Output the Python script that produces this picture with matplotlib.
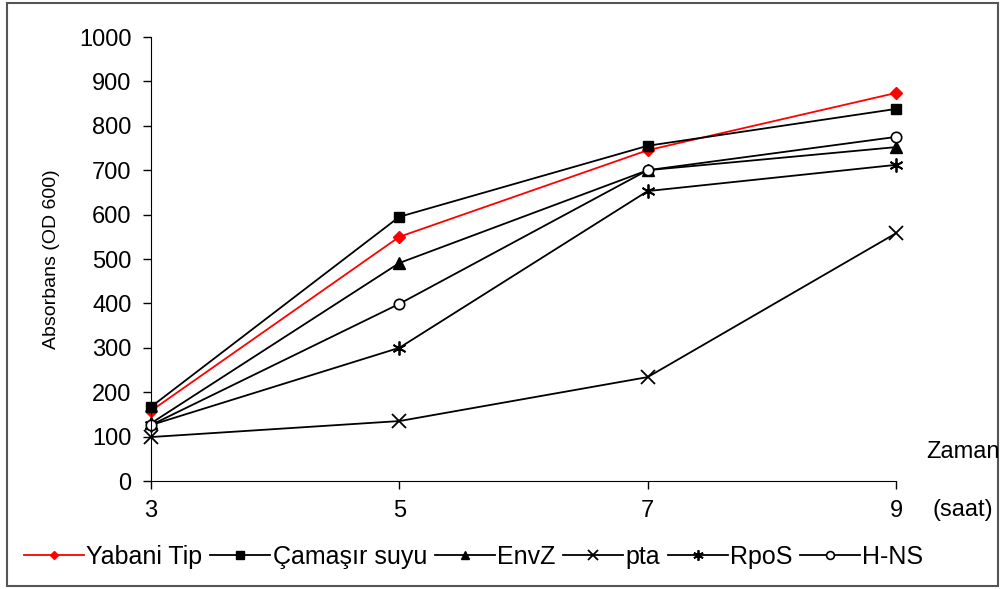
import matplotlib.pyplot as plt
from matplotlib.patches import Rectangle

plt.rcParams['font.family'] = ['Liberation Sans', 'DejaVu Sans']

# data
hours = [3, 5, 7, 9]
series_names = ['Yabani Tip', 'Çamaşır suyu', 'EnvZ', 'pta', 'RpoS', 'H-NS']
yabani_tip = [158, 550, 745, 874]
camasir_suyu = [167, 595, 755, 838]
envz = [130, 491, 700, 752]
pta = [99, 135, 234, 558]
rpos = [126, 300, 653, 712]
hns = [126, 399, 700, 775]

series_values = [yabani_tip, camasir_suyu, envz, pta, rpos, hns]
styles = [
    dict(color='#ff0000', marker='D', ms=6, mfc='#ff0000', mec='#ff0000'),
    dict(color='black', marker='s', ms=7, mfc='black', mec='black'),
    dict(color='black', marker='^', ms=8, mfc='black', mec='black'),
    dict(color='black', marker='x', ms=10, mew=1.3),
    dict(color='black', marker=(6, 2, 0), ms=10, mew=1.3),
    dict(color='black', marker='o', ms=7.5, mfc='white', mec='black', mew=1.2),
]

fig = plt.figure(figsize=(10.07, 5.89), dpi=100)
ax = fig.add_axes([151 / 1007, 1 - 481 / 589, (896 - 151) / 1007, (481 - 37) / 589])

for name, vals, st in zip(series_names, series_values, styles):
    ax.plot(hours, vals, lw=1.3, label=name, clip_on=False, **st)

ax.set_xlim(3, 9)
ax.set_ylim(0, 1000)
ax.set_xticks(hours)
ax.set_yticks(range(0, 1001, 100))
ax.tick_params(labelsize=17, length=6, width=1, direction='out', pad=8)
ax.spines['top'].set_visible(False)
ax.spines['right'].set_visible(False)
ax.set_ylabel('Absorbans (OD 600)', fontsize=14, labelpad=14)

fig.text(963 / 1007, 1 - 452 / 589, 'Zaman', fontsize=17, ha='center', va='center')
fig.text(963 / 1007, 1 - 510 / 589, '(saat)', fontsize=17, ha='center', va='center')

fig.legend(loc='center left', bbox_to_anchor=(14 / 1007, 1 - 557 / 589), ncol=6,
           frameon=False, fontsize=18, handlelength=2.4, handletextpad=0.1,
           columnspacing=0.3, borderaxespad=0, markerscale=0.75)

fig.patches.append(Rectangle((7 / 1007, 3 / 589), 991 / 1007, 583 / 589,
                             transform=fig.transFigure, fill=False,
                             edgecolor='#555555', lw=1.5))

fig.savefig('out.png', dpi=100)
